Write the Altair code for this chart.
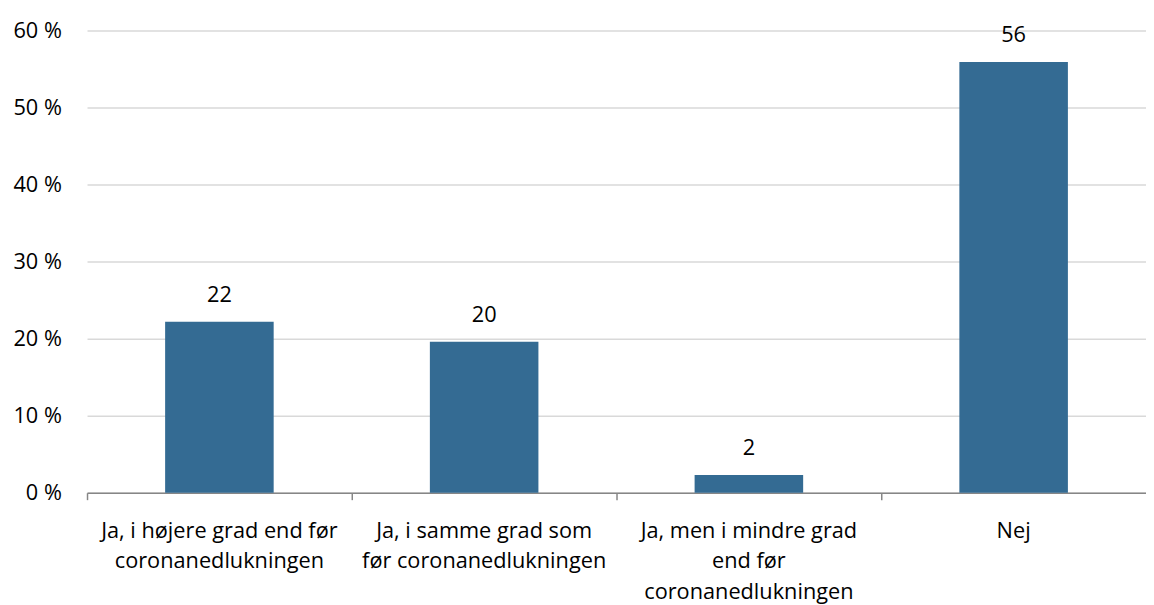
import altair as alt
import pandas as pd

categories = [
    "Ja, i højere grad end før\ncoronanedlukningen",
    "Ja, i samme grad som\nfør coronanedlukningen",
    "Ja, men i mindre grad\nend før\ncoronanedlukningen",
    "Nej",
]
values = [22.2, 19.6, 2.3, 55.9]
labels = ["22", "20", "2", "56"]
y_ticks = [0, 10, 20, 30, 40, 50, 60]

df = pd.DataFrame({"cat": categories, "val": values, "lab": labels})

FONT = "Open Sans"
FS = 22
BAR = "#346b93"

x = alt.X(
    "cat:N",
    sort=categories,
    title=None,
    scale=alt.Scale(paddingInner=0, paddingOuter=0),
    axis=alt.Axis(
        labelAngle=0,
        labelExpr="split(datum.label, '\\n')",
        labelFont=FONT,
        labelFontSize=FS,
        labelColor="#000000",
        labelLineHeight=31,
        labelBaseline="alphabetic",
        labelPadding=38,
        bandPosition=0,
        tickSize=7,
        tickColor="#868686",
        tickWidth=1.5,
        domainColor="#868686",
        domainWidth=1.5,
        grid=False,
        labelLimit=400,
    ),
)

y = alt.Y(
    "val:Q",
    title=None,
    scale=alt.Scale(domain=[0, 60], nice=False),
    axis=alt.Axis(
        values=y_ticks,
        labelExpr="datum.value + ' %'",
        labelFont=FONT,
        labelFontSize=FS,
        labelColor="#000000",
        labelPadding=26,
        domain=False,
        ticks=False,
        gridColor="#d9d9d9",
        gridWidth=1.5,
    ),
)

bars = alt.Chart(df).mark_bar(color=BAR, width={"band": 0.41}).encode(x=x, y=y)
text = alt.Chart(df).mark_text(
    font=FONT, fontSize=FS, color="#000000", baseline="alphabetic", dy=-20
).encode(x=alt.X("cat:N", sort=categories), y="val:Q", text="lab:N")

chart = (
    alt.layer(bars, text)
    .properties(
        width=1072,
        height=468,
        padding={"left": 80, "top": 19, "right": 0, "bottom": 118},
        autosize=alt.AutoSizeParams(type="none"),
    )
    .configure_view(stroke=None)
)

chart.save("out.html", embed_options={"renderer": "svg", "actions": False})
